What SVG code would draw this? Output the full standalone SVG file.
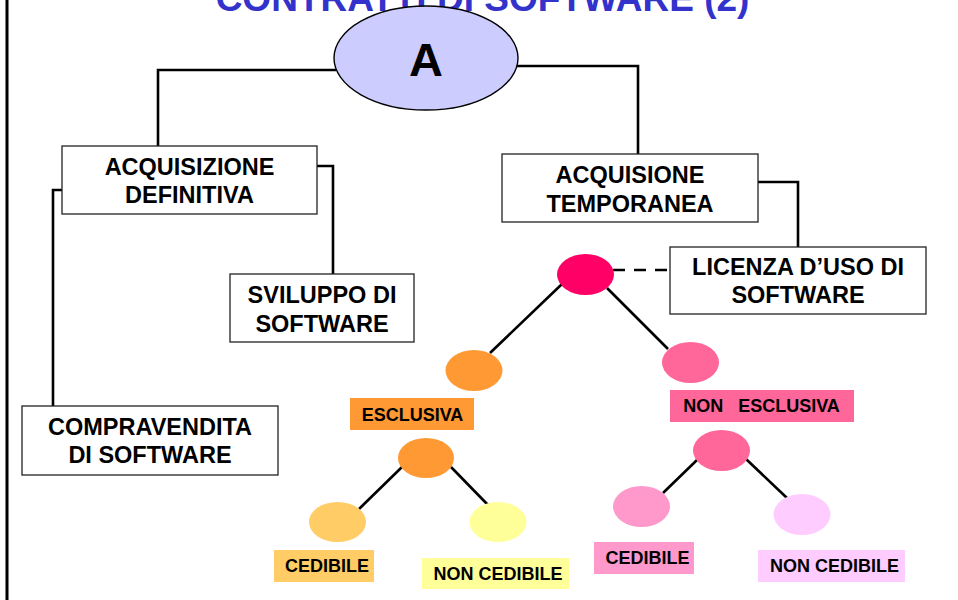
<svg xmlns="http://www.w3.org/2000/svg" width="958" height="600" viewBox="0 0 958 600">
<style>
text{font-family:"Liberation Sans",Arial,sans-serif;font-weight:bold;fill:#000;text-anchor:middle}
.box{fill:#fff;stroke:#222;stroke-width:1.3}
.bt{font-size:23.5px}
.lt{font-size:18px}
.con{fill:none;stroke:#000;stroke-width:2.6}
.dash{stroke-dasharray:12,9}
</style>
<rect width="958" height="600" fill="#fff"/>
<line x1="7" y1="0" x2="7" y2="600" stroke="#000" stroke-width="3"/>
<text x="482.5" y="11" style="font-size:37px;fill:#3333CC">CONTRATTI DI SOFTWARE (2)</text>
<g id="connectors">
<polyline class="con" points="336,70 158,70 158,146"/>
<polyline class="con" points="516,66 638,66 638,154"/>
<polyline class="con" points="317,166 333,166 333,274"/>
<polyline class="con" points="62,190 53,190 53,406"/>
<polyline class="con" points="758,182 798,182 798,247"/>
<line class="con dash" x1="613" y1="270" x2="670" y2="270"/>
<line class="con" x1="562" y1="284" x2="490" y2="353"/>
<line class="con" x1="607" y1="288" x2="668" y2="349"/>
<line class="con" x1="402" y1="467" x2="359" y2="509"/>
<line class="con" x1="451" y1="467" x2="489" y2="506"/>
<line class="con" x1="698" y1="459" x2="663" y2="493"/>
<line class="con" x1="746" y1="459" x2="787" y2="498"/>
</g>
<g id="nodeA">
<ellipse cx="426" cy="58" rx="92" ry="52" fill="#CCCCFF" stroke="#000" stroke-width="1.4"/>
<text x="426" y="76" style="font-size:47px">A</text>
</g>
<g id="acqDef">
<rect class="box" x="62" y="146" width="255" height="68"/>
<text class="bt" x="189.5" y="175">ACQUISIZIONE</text>
<text class="bt" x="189.5" y="203">DEFINITIVA</text>
</g>
<g id="acqTemp">
<rect class="box" x="502" y="154" width="256" height="68"/>
<text class="bt" x="630" y="183">ACQUISIONE</text>
<text class="bt" x="630" y="212">TEMPORANEA</text>
</g>
<g id="sviluppo">
<rect class="box" x="230" y="274" width="184" height="68"/>
<text class="bt" x="322" y="303">SVILUPPO DI</text>
<text class="bt" x="322" y="332">SOFTWARE</text>
</g>
<g id="licenza">
<rect class="box" x="670" y="247" width="256" height="67"/>
<text class="bt" x="798" y="275">LICENZA D’USO DI</text>
<text class="bt" x="798" y="303">SOFTWARE</text>
</g>
<g id="compravendita">
<rect class="box" x="22" y="406" width="256" height="69"/>
<text class="bt" x="150" y="435">COMPRAVENDITA</text>
<text class="bt" x="150" y="463">DI SOFTWARE</text>
</g>
<g id="root">
<ellipse cx="585.5" cy="274.5" rx="28.5" ry="20.5" fill="#FF0066"/>
</g>
<g id="esclusiva">
<ellipse cx="474" cy="370.5" rx="28.5" ry="20.5" fill="#FF9933"/>
<rect x="350" y="398" width="124" height="32" fill="#FF9933"/>
<text class="lt" x="412.5" y="421">ESCLUSIVA</text>
</g>
<g id="esclusivaNode">
<ellipse cx="426" cy="458" rx="28" ry="20" fill="#FF9933"/>
</g>
<g id="cedibile1">
<ellipse cx="337.5" cy="522" rx="28.5" ry="20" fill="#FFCC66"/>
<rect x="274" y="550" width="100" height="32" fill="#FFCC66"/>
<text class="lt" x="327" y="572">CEDIBILE</text>
</g>
<g id="nonCedibile1">
<ellipse cx="498" cy="522" rx="28.5" ry="20" fill="#FFFF99"/>
<rect x="422" y="558" width="147" height="31" fill="#FFFF99"/>
<text class="lt" x="498" y="580">NON CEDIBILE</text>
</g>
<g id="nonEsclusiva">
<ellipse cx="690.5" cy="362.5" rx="28.5" ry="20.5" fill="#FF6699"/>
<rect x="670" y="390" width="184" height="32" fill="#FF6699"/>
<text class="lt" x="761.5" y="412" xml:space="preserve">NON   ESCLUSIVA</text>
</g>
<g id="nonEsclusivaNode">
<ellipse cx="721.5" cy="450.5" rx="28.5" ry="20.5" fill="#FF6699"/>
</g>
<g id="cedibile2">
<ellipse cx="641.5" cy="506.5" rx="28.5" ry="20.5" fill="#FF99CC"/>
<rect x="594" y="542" width="100" height="32" fill="#FF99CC"/>
<text class="lt" x="647.5" y="564">CEDIBILE</text>
</g>
<g id="nonCedibile2">
<ellipse cx="802" cy="514.5" rx="28.5" ry="20.5" fill="#FFCCFF"/>
<rect x="758" y="550" width="147" height="32" fill="#FFCCFF"/>
<text class="lt" x="834.5" y="572">NON CEDIBILE</text>
</g>
</svg>
